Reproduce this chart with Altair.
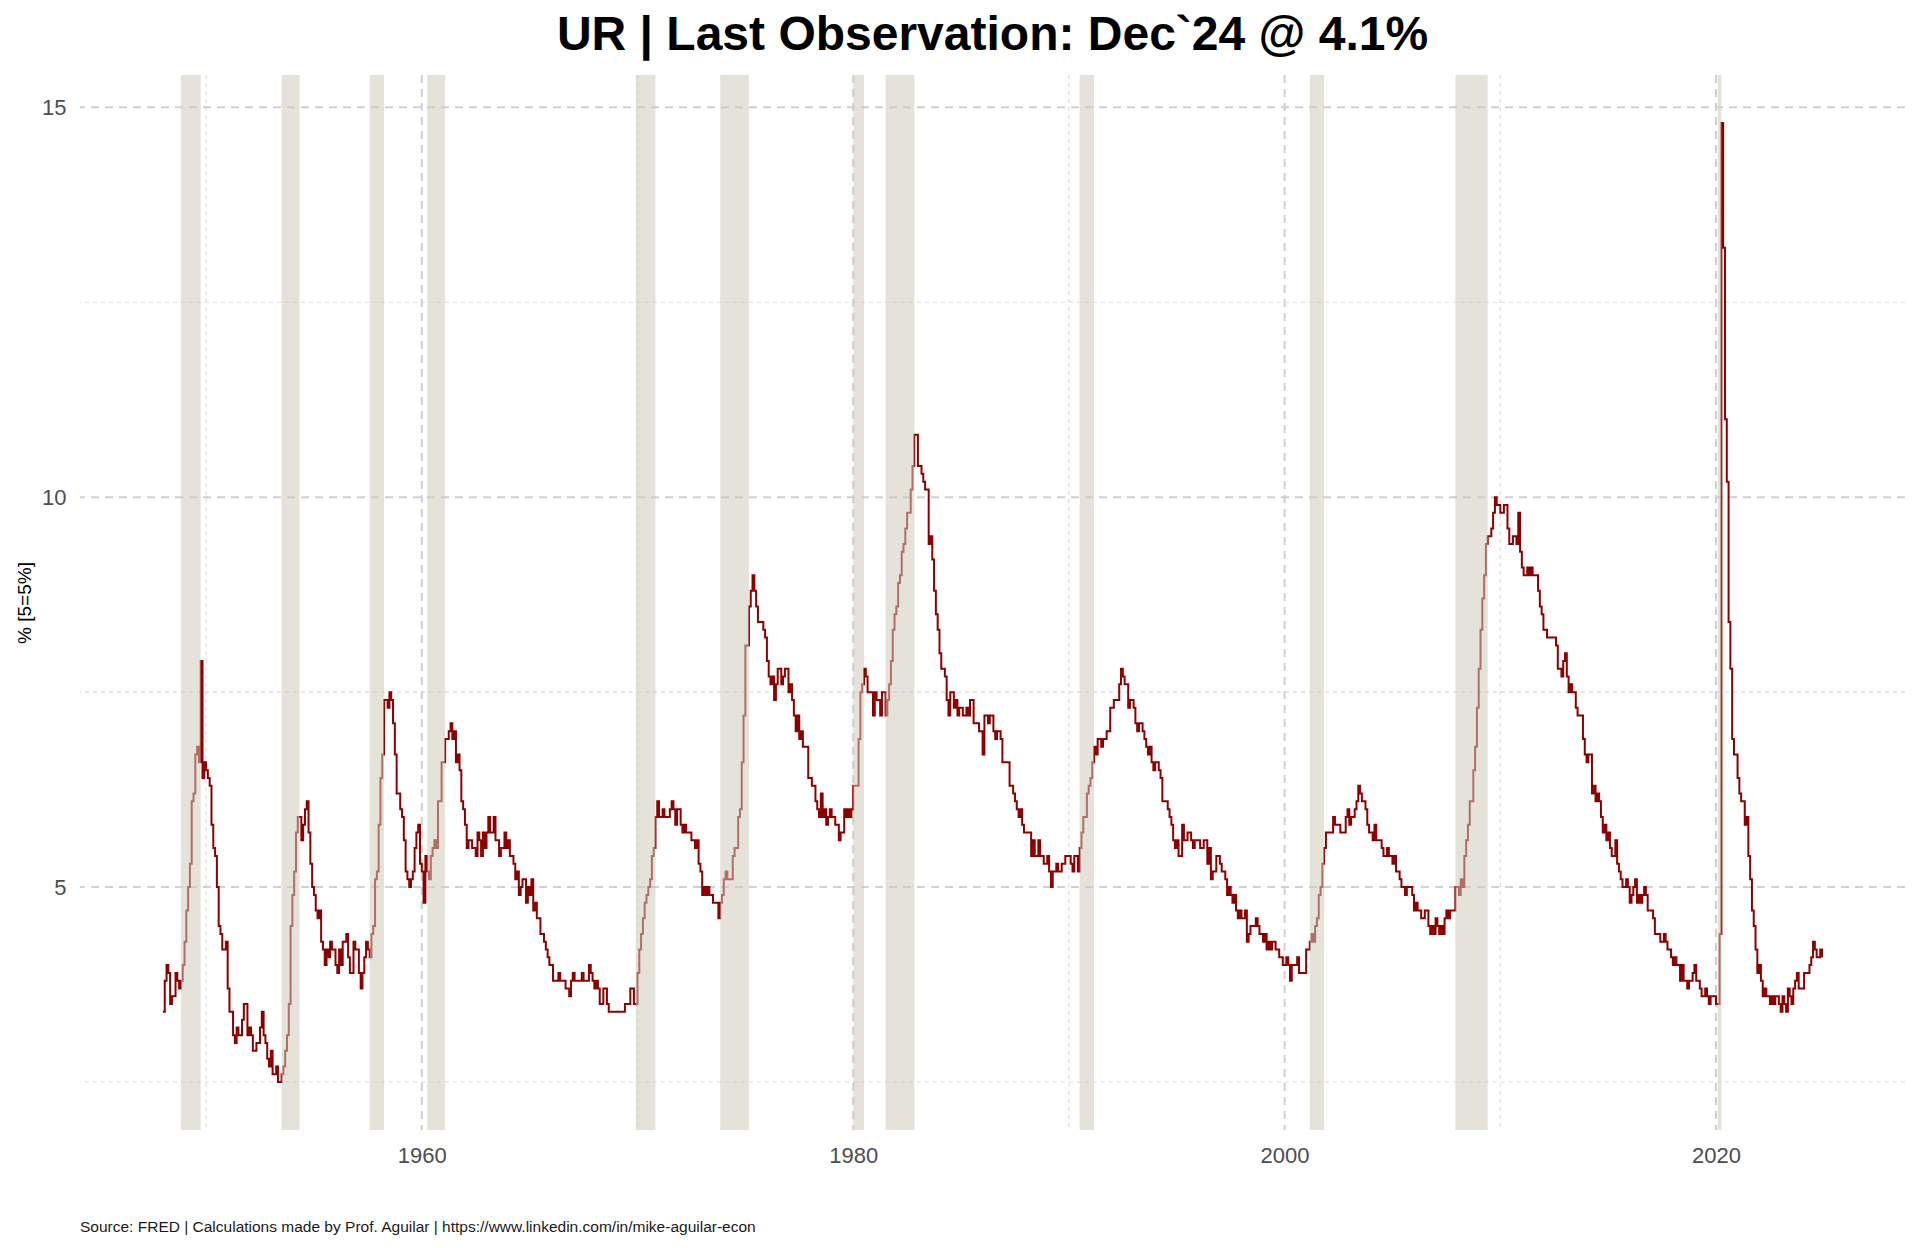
import altair as alt
import pandas as pd

# ---- Unemployment rate (%), monthly, starting Jan 1948 ----
ur_1948_1959 = [
    3.4, 3.8, 4.0, 3.9, 3.5, 3.6, 3.6, 3.9, 3.8, 3.7, 3.8, 4.0,
    4.3, 4.7, 5.0, 5.3, 6.1, 6.2, 6.7, 6.8, 6.6, 7.9, 6.4, 6.6,
    6.5, 6.4, 6.3, 5.8, 5.5, 5.4, 5.0, 4.5, 4.4, 4.2, 4.2, 4.3,
    3.7, 3.4, 3.4, 3.1, 3.0, 3.2, 3.1, 3.1, 3.3, 3.5, 3.5, 3.1,
    3.2, 3.1, 2.9, 2.9, 3.0, 3.0, 3.2, 3.4, 3.1, 3.0, 2.8, 2.7,
    2.9, 2.6, 2.6, 2.7, 2.5, 2.5, 2.6, 2.7, 2.9, 3.1, 3.5, 4.5,
    4.9, 5.2, 5.7, 5.9, 5.9, 5.6, 5.8, 6.0, 6.1, 5.7, 5.3, 5.0,
    4.9, 4.7, 4.6, 4.7, 4.3, 4.2, 4.0, 4.2, 4.1, 4.3, 4.2, 4.2,
    4.0, 3.9, 4.2, 4.0, 4.3, 4.3, 4.4, 4.1, 3.9, 3.9, 4.3, 4.2,
    4.2, 3.9, 3.7, 3.9, 4.1, 4.3, 4.2, 4.1, 4.4, 4.5, 5.1, 5.2,
    5.8, 6.4, 6.7, 7.4, 7.4, 7.3, 7.5, 7.4, 7.1, 6.7, 6.2, 6.2,
    6.0, 5.9, 5.6, 5.2, 5.1, 5.0, 5.1, 5.2, 5.5, 5.7, 5.8, 5.3,
]
ur_1960_1969 = [
    5.2, 4.8, 5.4, 5.2, 5.1, 5.4, 5.5, 5.6, 5.5, 6.1, 6.1, 6.6,
    6.6, 6.9, 6.9, 7.0, 7.1, 6.9, 7.0, 6.6, 6.7, 6.5, 6.1, 6.0,
    5.8, 5.5, 5.6, 5.6, 5.5, 5.5, 5.4, 5.7, 5.6, 5.4, 5.7, 5.5,
    5.7, 5.9, 5.7, 5.7, 5.9, 5.6, 5.6, 5.4, 5.5, 5.5, 5.7, 5.5,
    5.6, 5.4, 5.4, 5.3, 5.1, 5.2, 4.9, 5.0, 5.1, 5.1, 4.8, 5.0,
    4.9, 5.1, 4.7, 4.8, 4.6, 4.6, 4.4, 4.4, 4.3, 4.2, 4.1, 4.0,
    4.0, 3.8, 3.8, 3.8, 3.9, 3.8, 3.8, 3.8, 3.7, 3.7, 3.6, 3.8,
    3.9, 3.8, 3.8, 3.8, 3.8, 3.9, 3.8, 3.8, 3.8, 4.0, 3.9, 3.8,
    3.7, 3.8, 3.7, 3.5, 3.5, 3.7, 3.7, 3.5, 3.4, 3.4, 3.4, 3.4,
    3.4, 3.4, 3.4, 3.4, 3.4, 3.5, 3.5, 3.5, 3.7, 3.7, 3.5, 3.5,
]
ur_1970_1979 = [
    3.9, 4.2, 4.4, 4.6, 4.8, 4.9, 5.0, 5.1, 5.4, 5.5, 5.9, 6.1,
    5.9, 5.9, 6.0, 5.9, 5.9, 5.9, 6.0, 6.1, 6.0, 5.8, 6.0, 6.0,
    5.8, 5.7, 5.8, 5.7, 5.7, 5.7, 5.6, 5.6, 5.5, 5.6, 5.3, 5.2,
    4.9, 5.0, 4.9, 5.0, 4.9, 4.9, 4.8, 4.8, 4.8, 4.6, 4.8, 4.9,
    5.1, 5.2, 5.1, 5.1, 5.1, 5.4, 5.5, 5.5, 5.9, 6.0, 6.6, 7.2,
    8.1, 8.1, 8.6, 8.8, 9.0, 8.8, 8.6, 8.4, 8.4, 8.4, 8.3, 8.2,
    7.9, 7.7, 7.6, 7.7, 7.4, 7.6, 7.8, 7.8, 7.6, 7.7, 7.8, 7.8,
    7.5, 7.6, 7.4, 7.2, 7.0, 7.2, 6.9, 7.0, 6.8, 6.8, 6.8, 6.4,
    6.4, 6.3, 6.3, 6.1, 6.0, 5.9, 6.2, 5.9, 6.0, 5.8, 5.9, 6.0,
    5.9, 5.9, 5.8, 5.8, 5.6, 5.7, 5.7, 6.0, 5.9, 6.0, 5.9, 6.0,
]
ur_1980_1989 = [
    6.3, 6.3, 6.3, 6.9, 7.5, 7.6, 7.8, 7.7, 7.5, 7.5, 7.5, 7.2,
    7.5, 7.4, 7.4, 7.2, 7.5, 7.5, 7.2, 7.4, 7.6, 7.9, 8.3, 8.5,
    8.6, 8.9, 9.0, 9.3, 9.4, 9.6, 9.8, 9.8, 10.1, 10.4, 10.8, 10.8,
    10.4, 10.4, 10.3, 10.2, 10.1, 10.1, 9.4, 9.5, 9.2, 8.8, 8.5, 8.3,
    8.0, 7.8, 7.8, 7.7, 7.4, 7.2, 7.5, 7.5, 7.3, 7.4, 7.2, 7.3,
    7.3, 7.2, 7.2, 7.3, 7.2, 7.4, 7.4, 7.1, 7.1, 7.1, 7.0, 7.0,
    6.7, 7.2, 7.2, 7.1, 7.2, 7.2, 7.0, 6.9, 7.0, 7.0, 6.9, 6.6,
    6.6, 6.6, 6.6, 6.3, 6.3, 6.2, 6.1, 6.0, 5.9, 6.0, 5.8, 5.7,
    5.7, 5.7, 5.7, 5.4, 5.6, 5.4, 5.4, 5.6, 5.4, 5.4, 5.3, 5.3,
    5.4, 5.2, 5.0, 5.2, 5.2, 5.3, 5.2, 5.2, 5.3, 5.3, 5.4, 5.4,
]
ur_1990_1999 = [
    5.4, 5.3, 5.2, 5.4, 5.4, 5.2, 5.5, 5.7, 5.9, 5.9, 6.2, 6.3,
    6.4, 6.6, 6.8, 6.7, 6.9, 6.9, 6.8, 6.9, 6.9, 7.0, 7.0, 7.3,
    7.3, 7.4, 7.4, 7.4, 7.6, 7.8, 7.7, 7.6, 7.6, 7.3, 7.4, 7.4,
    7.3, 7.1, 7.0, 7.1, 7.1, 7.0, 6.9, 6.8, 6.7, 6.8, 6.6, 6.5,
    6.6, 6.6, 6.5, 6.4, 6.1, 6.1, 6.1, 6.0, 5.9, 5.8, 5.6, 5.5,
    5.6, 5.4, 5.4, 5.8, 5.6, 5.6, 5.7, 5.7, 5.6, 5.5, 5.6, 5.6,
    5.6, 5.5, 5.5, 5.6, 5.6, 5.3, 5.5, 5.1, 5.2, 5.2, 5.4, 5.4,
    5.3, 5.2, 5.2, 5.1, 4.9, 5.0, 4.9, 4.8, 4.9, 4.7, 4.6, 4.7,
    4.6, 4.6, 4.7, 4.3, 4.4, 4.5, 4.5, 4.5, 4.6, 4.5, 4.4, 4.4,
    4.3, 4.4, 4.2, 4.3, 4.2, 4.3, 4.3, 4.2, 4.2, 4.1, 4.1, 4.0,
]
ur_2000_2009 = [
    4.0, 4.1, 4.0, 3.8, 4.0, 4.0, 4.0, 4.1, 3.9, 3.9, 3.9, 3.9,
    4.2, 4.2, 4.3, 4.4, 4.3, 4.5, 4.6, 4.9, 5.0, 5.3, 5.5, 5.7,
    5.7, 5.7, 5.7, 5.9, 5.8, 5.8, 5.8, 5.7, 5.7, 5.7, 5.9, 6.0,
    5.8, 5.9, 5.9, 6.0, 6.1, 6.3, 6.2, 6.1, 6.1, 6.0, 5.8, 5.7,
    5.7, 5.6, 5.8, 5.6, 5.6, 5.6, 5.5, 5.4, 5.4, 5.5, 5.4, 5.4,
    5.3, 5.4, 5.2, 5.2, 5.1, 5.0, 5.0, 4.9, 5.0, 5.0, 5.0, 4.9,
    4.7, 4.8, 4.7, 4.7, 4.6, 4.6, 4.7, 4.7, 4.5, 4.4, 4.5, 4.4,
    4.6, 4.5, 4.4, 4.5, 4.4, 4.6, 4.7, 4.6, 4.7, 4.7, 4.7, 5.0,
    5.0, 4.9, 5.1, 5.0, 5.4, 5.6, 5.8, 6.1, 6.1, 6.5, 6.8, 7.3,
    7.8, 8.3, 8.7, 9.0, 9.4, 9.5, 9.5, 9.6, 9.8, 10.0, 9.9, 9.9,
]
ur_2010_2019 = [
    9.8, 9.8, 9.9, 9.9, 9.6, 9.4, 9.4, 9.5, 9.5, 9.4, 9.8, 9.3,
    9.1, 9.0, 9.0, 9.1, 9.0, 9.1, 9.0, 9.0, 9.0, 8.8, 8.6, 8.5,
    8.3, 8.3, 8.2, 8.2, 8.2, 8.2, 8.2, 8.1, 7.8, 7.8, 7.7, 7.9,
    8.0, 7.7, 7.5, 7.6, 7.5, 7.5, 7.3, 7.2, 7.2, 7.2, 6.9, 6.7,
    6.6, 6.7, 6.7, 6.2, 6.3, 6.1, 6.2, 6.1, 5.9, 5.7, 5.8, 5.6,
    5.7, 5.5, 5.4, 5.4, 5.6, 5.3, 5.2, 5.1, 5.0, 5.0, 5.1, 5.0,
    4.8, 4.9, 5.0, 5.1, 4.8, 4.9, 4.8, 4.9, 5.0, 4.9, 4.7, 4.7,
    4.7, 4.6, 4.4, 4.4, 4.4, 4.3, 4.3, 4.4, 4.3, 4.2, 4.2, 4.1,
    4.0, 4.1, 4.0, 4.0, 3.8, 4.0, 3.8, 3.8, 3.7, 3.8, 3.8, 3.9,
    4.0, 3.8, 3.8, 3.7, 3.6, 3.6, 3.7, 3.6, 3.5, 3.6, 3.6, 3.6,
]
ur_2020_2024 = [
    3.5, 3.5, 4.4, 14.8, 13.2, 11.0, 10.2, 8.4, 7.8, 6.9, 6.7, 6.7,
    6.4, 6.2, 6.1, 6.1, 5.8, 5.9, 5.4, 5.1, 4.7, 4.5, 4.2, 3.9,
    4.0, 3.8, 3.6, 3.7, 3.6, 3.6, 3.5, 3.6, 3.5, 3.6, 3.6, 3.5,
    3.4, 3.6, 3.5, 3.4, 3.7, 3.6, 3.5, 3.7, 3.8, 3.9, 3.7, 3.7,
    3.7, 3.9, 3.9, 3.9, 4.0, 4.1, 4.3, 4.2, 4.1, 4.1, 4.2, 4.1,
]
first_month = "1948-01"

# ---- NBER recessions (peak month, trough month) ----
rec_start = ["1948-11", "1953-07", "1957-08", "1960-04", "1969-12", "1973-11",
             "1980-01", "1981-07", "1990-07", "2001-03", "2007-12", "2020-02"]
rec_end = ["1949-10", "1954-05", "1958-04", "1961-02", "1970-11", "1975-03",
           "1980-07", "1982-11", "1991-03", "2001-11", "2009-06", "2020-04"]

# ---- axis ticks / grid ----
x_major = [1960, 1980, 2000, 2020]
x_minor = [1950, 1970, 1990, 2010]
y_major = [5, 10, 15]
y_minor = [2.5, 7.5, 12.5]

title_text = "UR | Last Observation: Dec`24 @ 4.1%"
caption_text = "Source: FRED | Calculations made by Prof. Aguilar | https://www.linkedin.com/in/mike-aguilar-econ"
y_title = "% [5=5%]"


def dec_year(ym):
    y, m = ym.split("-")
    return int(y) + (int(m) - 1) / 12.0


values = (ur_1948_1959 + ur_1960_1969 + ur_1970_1979 + ur_1980_1989 +
          ur_1990_1999 + ur_2000_2009 + ur_2010_2019 + ur_2020_2024)
t0 = dec_year(first_month)
df = pd.DataFrame({"t": [t0 + i / 12.0 for i in range(len(values))], "ur": values})
rec = pd.DataFrame({"s": [dec_year(s) for s in rec_start], "e": [dec_year(e) for e in rec_end]})

# ggplot-like 5% expansion
xmin, xmax = df.t.min(), df.t.max()
ymin, ymax = df.ur.min(), df.ur.max()
xdom = [xmin - 0.05 * (xmax - xmin), xmax + 0.05 * (xmax - xmin)]
ydom = [ymin - 0.05 * (ymax - ymin), ymax + 0.05 * (ymax - ymin)]

W, H = 1825, 1055
FONT = "Liberation Sans"

xs = alt.Scale(domain=xdom, nice=False, zero=False)
ys = alt.Scale(domain=ydom, nice=False, zero=False)

x_axis = alt.Axis(values=x_major, format="d", title=None, grid=False, ticks=False,
                  domain=False, labelFontSize=22, labelColor="#4d4d4d", labelFont=FONT,
                  labelPadding=15)
y_axis = alt.Axis(values=y_major, format="d", title=y_title, grid=False, ticks=False,
                  domain=False, labelFontSize=22, labelColor="#4d4d4d", labelFont=FONT,
                  labelPadding=14, titleFontSize=19, titleFont=FONT, titleColor="#000000",
                  titleFontWeight="normal", titlePadding=7)

hmaj = alt.Chart(pd.DataFrame({"v": y_major})).mark_rule(
    color="#d0d0d0", strokeWidth=2, strokeDash=[8, 6]).encode(y=alt.Y("v:Q", scale=ys))
hmin = alt.Chart(pd.DataFrame({"v": y_minor})).mark_rule(
    color="#dadada", strokeWidth=1.1, strokeDash=[4, 4]).encode(y=alt.Y("v:Q", scale=ys))
vmaj = alt.Chart(pd.DataFrame({"v": x_major})).mark_rule(
    color="#d0d0d0", strokeWidth=2, strokeDash=[8, 6]).encode(x=alt.X("v:Q", scale=xs))
vmin = alt.Chart(pd.DataFrame({"v": x_minor})).mark_rule(
    color="#dadada", strokeWidth=1.1, strokeDash=[4, 4]).encode(x=alt.X("v:Q", scale=xs))

line = alt.Chart(df).mark_line(color="#8b0000", strokeWidth=2, interpolate="step-after").encode(
    x=alt.X("t:Q", scale=xs, axis=x_axis),
    y=alt.Y("ur:Q", scale=ys, axis=y_axis),
)

shade = alt.Chart(rec).mark_rect(color="rgb(207,203,185)", opacity=0.55).encode(
    x=alt.X("s:Q", scale=xs),
    x2="e:Q",
    y=alt.datum(ydom[1]),
    y2=alt.datum(ydom[0]),
)

caption = alt.Chart(pd.DataFrame({"c": [caption_text]})).mark_text(
    align="left", baseline="alphabetic", fontSize=15.5, font=FONT, color="#1a1a1a").encode(
    x=alt.value(0), y=alt.value(1157), text="c:N")

chart = alt.layer(hmin, vmin, hmaj, vmaj, line, shade, caption).properties(
    width=W, height=H,
    title=alt.TitleParams(title_text, fontSize=48, font=FONT, fontWeight="bold",
                          color="#000000", anchor="middle", offset=14),
    autosize=alt.AutoSizeParams(type="none"),
    padding={"left": 72, "top": 67, "right": 5, "bottom": 110},
).configure(background="white").configure_view(stroke=None, strokeWidth=0)

chart.save("out.html", embed_options={"renderer": "svg", "actions": False})
